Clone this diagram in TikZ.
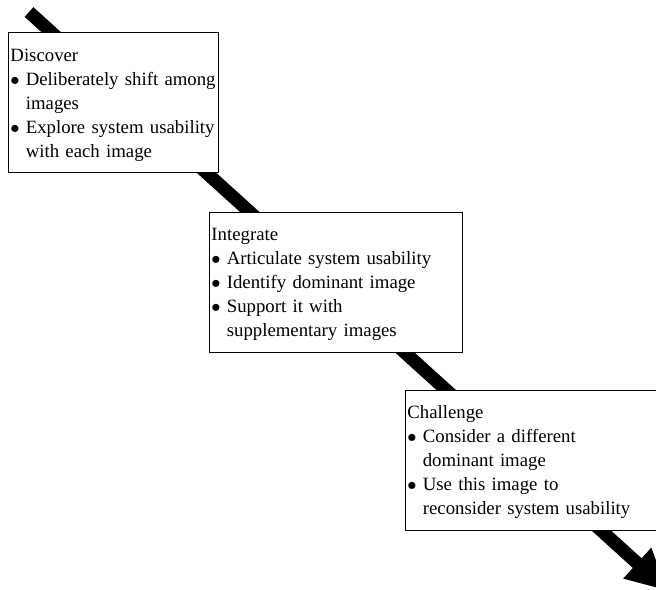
\documentclass[tikz,border=0pt]{standalone}
\usepackage{fontspec}
\setmainfont[WordSpace=0.85]{Liberation Serif}
\usetikzlibrary{arrows.meta}
\newlength\px
\setlength\px{0.65pt}
\newcommand{\bul}[1]{\mbox{\makebox[0.82em][l]{$\bullet$}#1}}
\newcommand{\ind}[1]{\mbox{\hspace*{0.82em}#1}}

\begin{document}
\begin{tikzpicture}[x=\px, y=-\px,
  stage/.style={draw, fill=white, line width=0.6pt, anchor=north west, align=left, inner xsep=2\px, inner ysep=0pt, minimum height=140\px, font=\fontsize{12.2pt}{15.6pt}\selectfont},
  flow/.style={line width=8.5pt, -{Triangle[length=27pt,width=25pt]}}]

\path[use as bounding box] (0,0) rectangle (656,590);
\clip (0,0) rectangle (656,590);

% the long arrow behind the boxes
\coordinate (start) at (29,12);
\coordinate (finish) at (668,591);
\draw[flow] (start) -- (finish);

\node[stage, text width=206\px] (discover) at (8,32) {\rule{0pt}{12pt}Discover\\
\bul{Deliberately shift among}\\
\ind{images}\\
\bul{Explore system usability}\\
\ind{with each image}};

\node[stage, text width=249\px] (integrate) at (209,212) {\rule{0pt}{11pt}Integrate\\
\bul{Articulate system usability}\\
\bul{Identify dominant image}\\
\bul{Support it with}\\
\ind{supplementary images}};

\node[stage, text width=261\px] (challenge) at (405,390) {\rule{0pt}{11pt}Challenge\\
\bul{Consider a different}\\
\ind{dominant image}\\
\bul{Use this image to}\\
\ind{reconsider system usability}};
\end{tikzpicture}
\end{document}
